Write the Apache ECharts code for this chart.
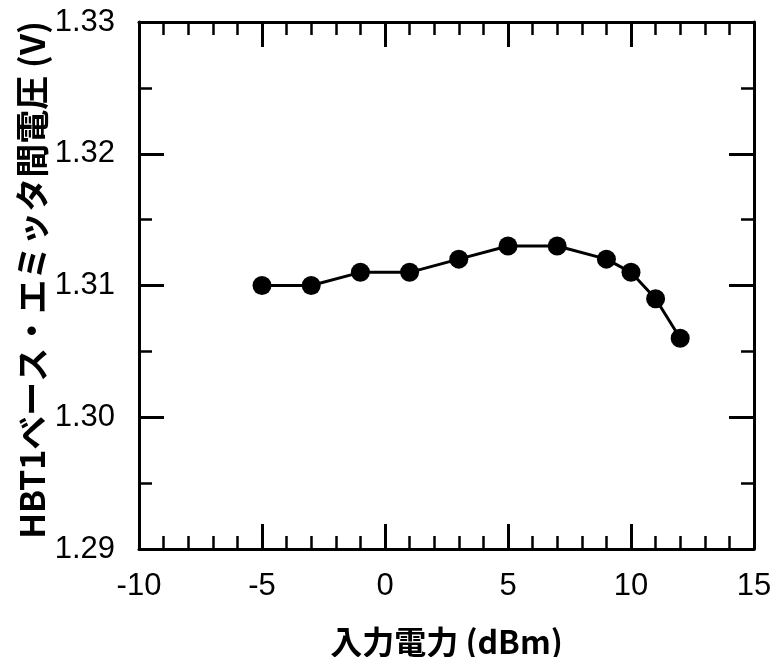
<!DOCTYPE html>
<html>
<head>
<meta charset="utf-8">
<script src="https://cdn.jsdelivr.net/npm/echarts@6/dist/echarts.min.js"></script>
<style>
  html, body { margin: 0; padding: 0; background: #fff; }
  #chart { width: 773px; height: 657px; }
</style>
</head>
<body>
<div id="chart"></div>
<script>
// Input power (dBm) and the measured HBT1 base-emitter voltage (V)
const inputPower = [-5, -3, -1, 1, 3, 5, 7, 9, 10, 11, 12];
const vbe = [1.310, 1.310, 1.311, 1.311, 1.312, 1.313, 1.313, 1.312, 1.311, 1.309, 1.306];

const xTitle = '入力電力 (dBm)';
const yTitle = 'HBT1ベース・エミッタ間電圧 (V)';

const numFont = '"Liberation Sans", Arial, sans-serif';
const cjkFont = '"Noto Sans CJK JP", "Noto Sans", sans-serif';

const chart = echarts.init(document.getElementById('chart'), null, { renderer: 'canvas' });

const lineStyle = { color: '#000', width: 3 };
const minorStyle = { color: '#000', width: 2.5 };

// Boxed frame: every side carries inward-pointing major and minor ticks
function frameAxis(extra) {
  return Object.assign({
    type: 'value',
    axisLine: { show: true, onZero: false, lineStyle: lineStyle },
    axisTick: { show: true, inside: true, length: 25, lineStyle: lineStyle },
    splitLine: { show: false },
    minorSplitLine: { show: false }
  }, extra);
}

const option = {
  backgroundColor: '#fff',
  animation: false,
  grid: {
    left: 139, right: 19, top: 22, bottom: 108,
    containLabel: false,
    outerBoundsMode: 'none'
  },
  xAxis: [
    frameAxis({
      position: 'bottom',
      min: -10, max: 15, interval: 5,
      minorTick: { show: true, splitNumber: 5, length: 13, lineStyle: minorStyle },
      axisLabel: { show: true, margin: 22, color: '#000', fontSize: 31, fontFamily: numFont },
      name: xTitle,
      nameLocation: 'middle',
      nameGap: 77,
      nameMoveOverlap: false,
      nameTextStyle: { color: '#000', fontSize: 32, fontWeight: 'bold', fontFamily: cjkFont }
    }),
    frameAxis({
      position: 'top',
      min: -10, max: 15, interval: 5,
      minorTick: { show: true, splitNumber: 5, length: 13, lineStyle: minorStyle },
      axisLabel: { show: false }
    })
  ],
  yAxis: [
    frameAxis({
      position: 'left',
      min: 1.29, max: 1.33, interval: 0.01,
      minorTick: { show: true, splitNumber: 2, length: 13, lineStyle: minorStyle },
      axisLabel: {
        show: true, margin: 24, color: '#000', fontSize: 31, fontFamily: numFont,
        formatter: v => v.toFixed(2)
      },
      name: yTitle,
      nameLocation: 'middle',
      nameGap: 90,
      nameRotate: 90,
      nameMoveOverlap: false,
      nameTextStyle: {
        color: '#000', fontSize: 34, fontWeight: 'bold', fontFamily: cjkFont,
        padding: [0, 0, 0, 11]
      }
    }),
    frameAxis({
      position: 'right',
      min: 1.29, max: 1.33, interval: 0.01,
      minorTick: { show: true, splitNumber: 2, length: 13, lineStyle: minorStyle },
      axisLabel: { show: false }
    })
  ],
  series: [{
    type: 'line',
    xAxisIndex: 0,
    yAxisIndex: 0,
    data: inputPower.map((x, i) => [x, vbe[i]]),
    symbol: 'circle',
    symbolSize: 19,
    itemStyle: { color: '#000' },
    lineStyle: { color: '#000', width: 3 },
    clip: false
  }]
};

chart.setOption(option);
</script>
</body>
</html>
